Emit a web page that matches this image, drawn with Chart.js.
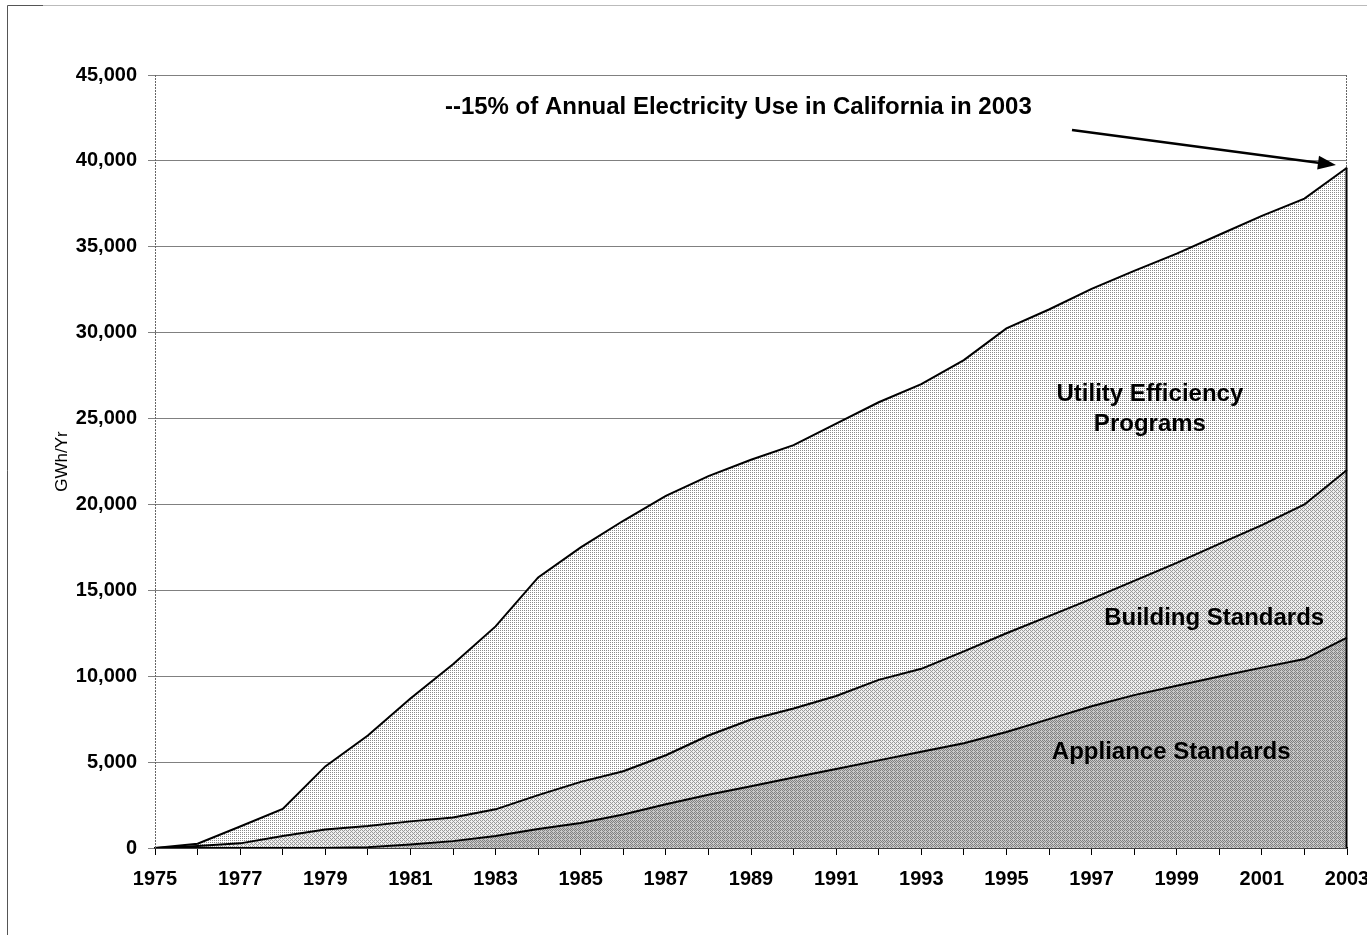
<!DOCTYPE html>
<html>
<head>
<meta charset="utf-8">
<script src="https://cdn.jsdelivr.net/npm/chart.js@4.4.0/dist/chart.umd.min.js"></script>
<style>
    html, body { margin: 0; padding: 0; background: #fff; }
    #wrap { position: relative; width: 1367px; height: 935px; }
</style>
</head>
<body>
<div id="wrap"><canvas id="graficoEficiencia"></canvas></div>
<script>
const anos = ["1975", "1976", "1977", "1978", "1979", "1980", "1981", "1982", "1983", "1984",
    "1985", "1986", "1987", "1988", "1989", "1990", "1991", "1992", "1993", "1994",
    "1995", "1996", "1997", "1998", "1999", "2000", "2001", "2002", "2003"];

// GWh/Yr por camada (empilhadas)
const padroesAparelhos = [0, 0, 0, 0, 0, 50, 200, 400, 700, 1100,
    1450, 1950, 2550, 3100, 3600, 4100, 4600, 5100, 5600, 6100,
    6750, 7500, 8250, 8900, 9450, 9980, 10500, 11000, 12250];
const padroesEdificios = [0, 120, 270, 700, 1080, 1230, 1350, 1380, 1550, 1980,
    2400, 2520, 2850, 3450, 3880, 4020, 4250, 4690, 4830, 5350,
    5750, 6000, 6250, 6650, 7150, 7720, 8300, 9000, 9750];
const programasConcessionarias = [0, 130, 980, 1570, 3670, 5270, 7150, 8920, 10650, 12670,
    13650, 14580, 15100, 15100, 15120, 15330, 15850, 16160, 16570, 16950,
    17750, 17850, 18050, 18050, 18000, 18000, 18000, 17800, 17600];

const ticksY = [0, 5000, 10000, 15000, 20000, 25000, 30000, 35000, 40000, 45000];

const fonte = '"Liberation Sans", Arial, sans-serif';
Chart.defaults.font.family = fonte;
Chart.defaults.color = "#000";

// textura pontilhada (dither ordenado) para imitar o preenchimento do original
function textura(base, ponto, nivel) {
    const bayer = [[0, 8, 2, 10], [12, 4, 14, 6], [3, 11, 1, 9], [15, 7, 13, 5]];
    const c = document.createElement("canvas");
    c.width = 4;
    c.height = 4;
    const g = c.getContext("2d");
    g.fillStyle = base;
    g.fillRect(0, 0, 4, 4);
    g.fillStyle = ponto;
    for (let y = 0; y < 4; y++) {
        for (let x = 0; x < 4; x++) {
            if (bayer[y][x] < nivel) g.fillRect(x, y, 1, 1);
        }
    }
    return g.createPattern(c, "repeat");
}

const anotacoes = {
    id: "anotacoes",
    beforeDraw(chart) {
        const ctx = chart.ctx;
        ctx.save();
        ctx.lineWidth = 1;
        ctx.strokeStyle = "#555";
        ctx.beginPath();
        ctx.moveTo(7.5, 935);
        ctx.lineTo(7.5, 5.5);
        ctx.lineTo(43, 5.5);
        ctx.stroke();
        ctx.strokeStyle = "#bbb";
        ctx.beginPath();
        ctx.moveTo(43, 5.5);
        ctx.lineTo(1367, 5.5);
        ctx.stroke();
        ctx.restore();
    },
    afterDraw(chart) {
        const ctx = chart.ctx;
        const xs = chart.scales.x;
        const ys = chart.scales.y;
        const area = chart.chartArea;
        const ult = anos.length - 1;
        const total = padroesAparelhos[ult] + padroesEdificios[ult] + programasConcessionarias[ult];
        const xFim = xs.getPixelForValue(ult);

        ctx.save();
        // bordas pontilhadas da area de plotagem
        ctx.strokeStyle = "#666";
        ctx.lineWidth = 1;
        ctx.setLineDash([2, 1]);
        ctx.beginPath();
        ctx.moveTo(area.left + 0.5, area.bottom);
        ctx.lineTo(area.left + 0.5, area.top);
        ctx.moveTo(xFim - 0.5, area.top);
        ctx.lineTo(xFim - 0.5, ys.getPixelForValue(total));
        ctx.stroke();
        ctx.setLineDash([]);

        // contorno vertical final da area
        ctx.strokeStyle = "#000";
        ctx.lineWidth = 2;
        ctx.beginPath();
        ctx.moveTo(xFim - 0.5, ys.getPixelForValue(total));
        ctx.lineTo(xFim - 0.5, ys.getPixelForValue(0));
        ctx.stroke();

        // rotulos das camadas
        ctx.fillStyle = "#000";
        ctx.textAlign = "center";
        ctx.textBaseline = "middle";
        ctx.font = "bold 24px " + fonte;
        ctx.fillText("Utility Efficiency", xs.getPixelForValue(23.37), ys.getPixelForValue(26430));
        ctx.fillText("Programs", xs.getPixelForValue(23.37), ys.getPixelForValue(24680));
        ctx.fillText("Building Standards", xs.getPixelForValue(24.88), ys.getPixelForValue(13390));
        ctx.fillText("Appliance Standards", xs.getPixelForValue(23.87), ys.getPixelForValue(5590));

        // chamada
        ctx.textAlign = "left";
        ctx.font = "bold 24px " + fonte;
        ctx.fillText("--15% of Annual Electricity Use in California in 2003",
            xs.getPixelForValue(6.81), ys.getPixelForValue(43140));

        // seta
        const x1 = xs.getPixelForValue(21.54), y1 = ys.getPixelForValue(41800);
        const x2 = xs.getPixelForValue(27.74), y2 = ys.getPixelForValue(39760);
        const ang = Math.atan2(y2 - y1, x2 - x1);
        ctx.lineWidth = 2.5;
        ctx.beginPath();
        ctx.moveTo(x1, y1);
        ctx.lineTo(x2 - 14 * Math.cos(ang), y2 - 14 * Math.sin(ang));
        ctx.stroke();
        ctx.beginPath();
        ctx.moveTo(x2, y2);
        ctx.lineTo(x2 - 18 * Math.cos(ang) + 7 * Math.sin(ang), y2 - 18 * Math.sin(ang) - 7 * Math.cos(ang));
        ctx.lineTo(x2 - 18 * Math.cos(ang) - 7 * Math.sin(ang), y2 - 18 * Math.sin(ang) + 7 * Math.cos(ang));
        ctx.closePath();
        ctx.fill();
        ctx.restore();
    }
};

const grafico = document.getElementById("graficoEficiencia");

const graficoEficiencia = new Chart(grafico, {
    type: "line",
    data: {
        labels: anos,
        datasets: [
            {
                label: "Appliance Standards",
                data: padroesAparelhos,
                backgroundColor: textura("#c8c8c8", "#808080", 7),
                fill: "origin",
            },
            {
                label: "Building Standards",
                data: padroesEdificios,
                backgroundColor: textura("#eeeeee", "#999999", 6),
                fill: "-1",
            },
            {
                label: "Utility Efficiency Programs",
                data: programasConcessionarias,
                backgroundColor: textura("#ffffff", "#8a8a8a", 4),
                fill: "-1",
            },
        ],
    },
    options: {
        responsive: true,
        maintainAspectRatio: false,
        animation: false,
        devicePixelRatio: 1,
        layout: { padding: { top: 75, right: 20, left: 0, bottom: 0 } },
        elements: {
            line: { borderColor: "#000", borderWidth: 2, tension: 0 },
            point: { radius: 0 },
        },
        plugins: {
            legend: { display: false },
            tooltip: { enabled: false },
        },
        scales: {
            x: {
                type: "category",
                offset: false,
                grid: { drawOnChartArea: false, drawTicks: true, tickLength: 7, color: "#000" },
                border: { color: "#000", width: 1.5 },
                ticks: {
                    autoSkip: false,
                    maxRotation: 0,
                    padding: 12,
                    font: { size: 20, weight: "bold" },
                    callback: function (valor, i) {
                        return i % 2 === 0 ? this.getLabelForValue(valor) : "";
                    },
                },
                afterFit: (s) => {
                    s.height = 87;
                    s.paddingLeft = 0;
                    s.paddingRight = 0;
                },
            },
            y: {
                stacked: true,
                min: 0,
                max: 45000,
                afterBuildTicks: (s) => { s.ticks = ticksY.map((v) => ({ value: v })); },
                grid: { color: "#808080", tickLength: 7 },
                border: { display: false },
                ticks: {
                    padding: 11,
                    font: { size: 20, weight: "bold" },
                    callback: (v) => v.toLocaleString("en-US"),
                },
                title: {
                    display: true,
                    text: "GWh/Yr",
                    font: { size: 17, weight: "normal" },
                    padding: { top: 52, bottom: 0 },
                },
                afterFit: (s) => { s.width = 155; },
            },
        },
    },
    plugins: [anotacoes],
});
</script>
</body>
</html>
